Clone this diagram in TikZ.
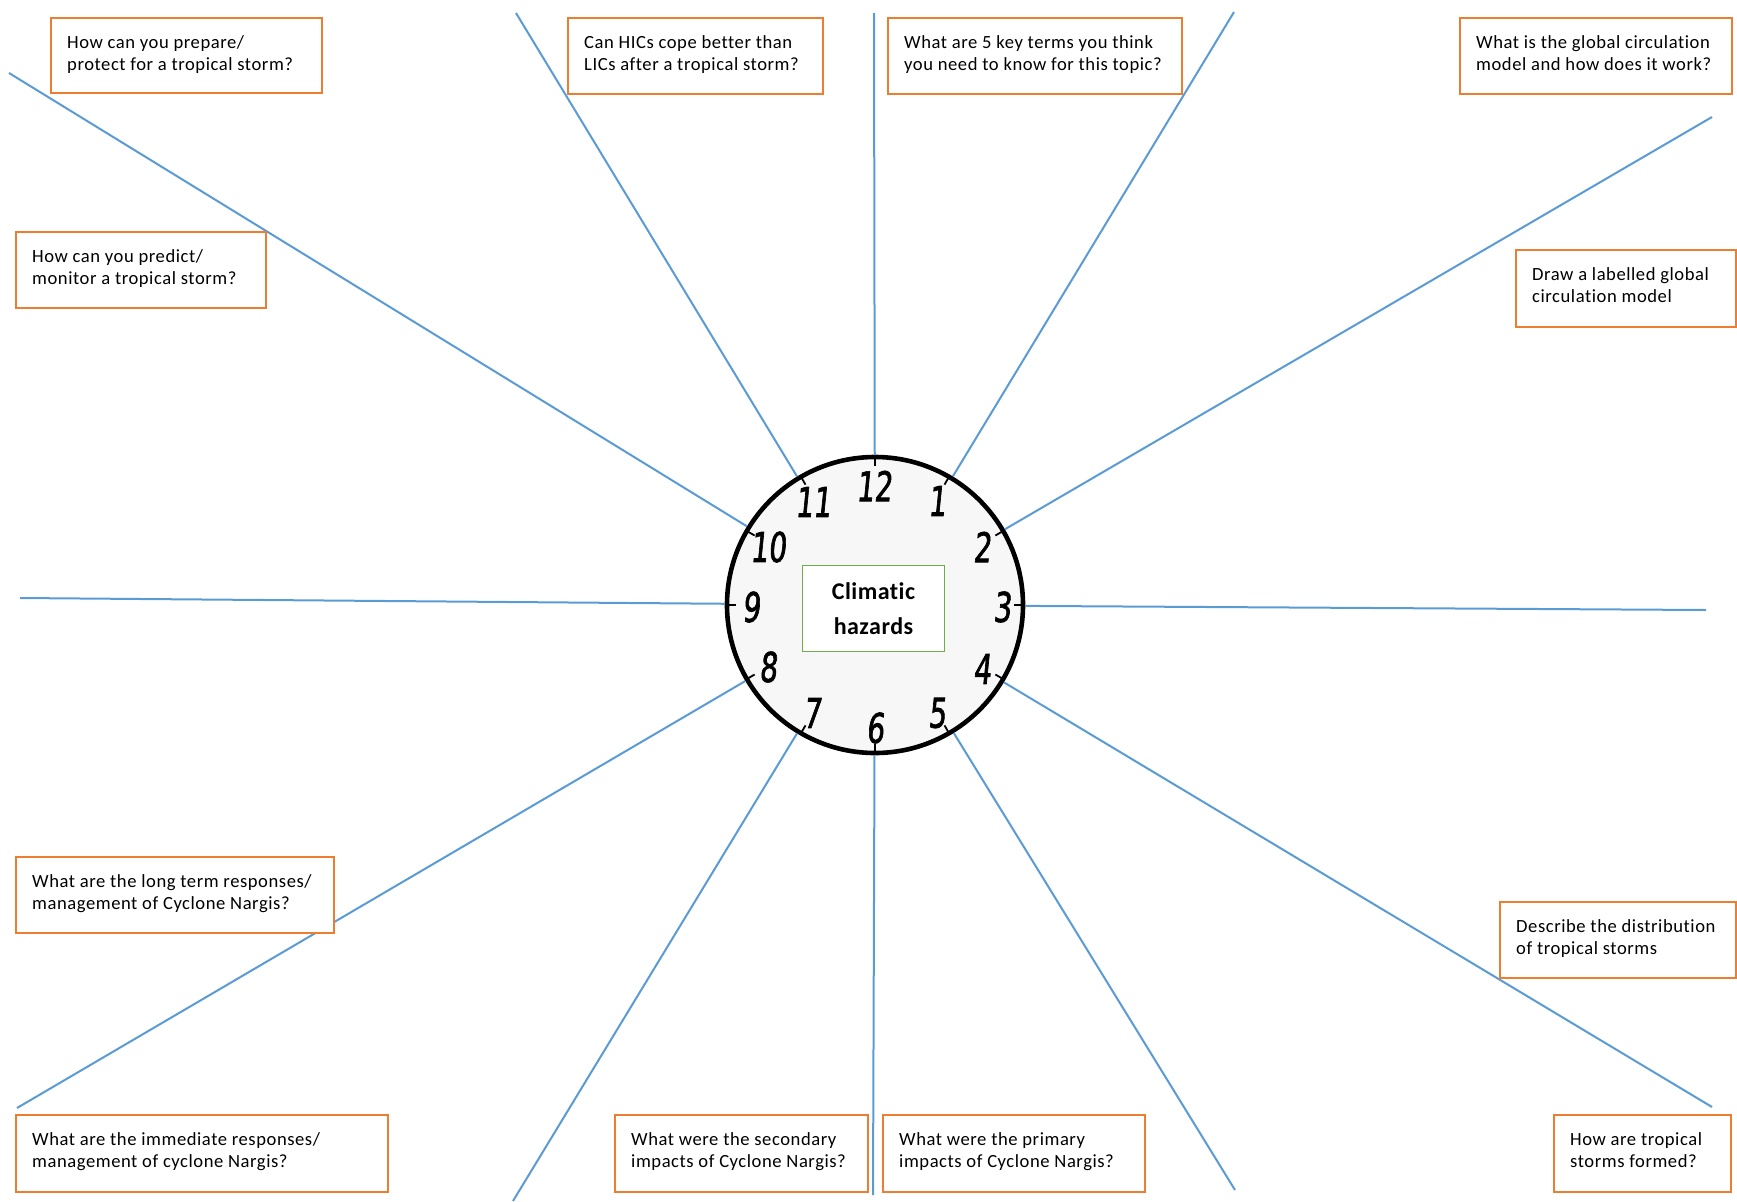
\documentclass[tikz,border=0pt]{standalone}
\usepackage{fontspec}
\setmainfont{Carlito}[LetterSpace=3, Ligatures=NoCommon]
\newfontfamily\hubfont{Carlito}[LetterSpace=2, Ligatures=NoCommon]
\newfontfamily\numfont{DejaVu Sans}[FakeSlant=0.1, FakeStretch=0.68, FakeBold=1.6]
\definecolor{qorange}{HTML}{ED7D31}
\definecolor{spokeblue}{HTML}{5B9BD5}
\definecolor{hubgreen}{HTML}{70AD47}
\tikzset{
  qbox/.style={draw=qorange, line width=1.2pt, fill=white, inner xsep=8pt, inner ysep=0pt,
    anchor=north west, font=\fontsize{9.3}{11.3}\selectfont},
  spoke/.style={draw=spokeblue, line width=1pt},
  clockface/.style={circle, draw=black, line width=2.3pt, fill=black!3, minimum size=148pt, inner sep=0pt},
  hourtick/.style={draw=black, line width=0.9pt},
  hournum/.style={font=\numfont\fontsize{20.5}{20.5}\selectfont, inner sep=0pt},
  hub/.style={draw=hubgreen, line width=0.9pt, fill=white, minimum width=71pt, minimum height=43pt,
    align=center, font=\hubfont\bfseries\fontsize{12}{17.5}\selectfont}
}
\newcommand\qb[6]{\node[qbox] (#1) at (#2,#3)
  {\parbox[t][\dimexpr #5pt/2\relax][t]{\dimexpr #4pt/2-16pt\relax}{\raggedright\vspace*{7pt}\strut #6}};}
\begin{document}
\begin{tikzpicture}[x=0.5pt,y=-0.5pt]
\useasboundingbox (0,0) rectangle (1737,1201);
% spoke end points
\coordinate (e12) at (874,13);
\coordinate (e1) at (1234,12);
\coordinate (e2) at (1712,117);
\coordinate (e3) at (1706,610);
\coordinate (e4) at (1712,1107);
\coordinate (e5) at (1235,1190);
\coordinate (e6) at (873,1195);
\coordinate (e7) at (513,1201);
\coordinate (e8) at (17,1108);
\coordinate (e9) at (20,598);
\coordinate (e10) at (9,73);
\coordinate (e11) at (516,13);
% clock
\node[clockface] (clock) at (875,605) {};
\foreach \e in {e12,e1,e2,e3,e4,e5,e6,e7,e8,e9,e10,e11}
  \draw[spoke] (clock) -- (\e);
\foreach \a in {0,30,...,330}
  \draw[hourtick] (clock.center) ++(\a:139) -- ++(\a:10);
\node[hournum] (n12) at (874,486) {12};
\node[hournum] (n1) at (937,501) {1};
\node[hournum] (n2) at (982,547) {2};
\node[hournum] (n3) at (1002,607) {3};
\node[hournum] (n4) at (982,669) {4};
\node[hournum] (n5) at (937,713) {5};
\node[hournum] (n6) at (875,728) {6};
\node[hournum] (n7) at (812,713) {7};
\node[hournum] (n8) at (768,667) {8};
\node[hournum] (n9) at (751,607) {9};
\node[hournum] (n10) at (768,547) {10};
\node[hournum] (n11) at (813,502) {11};
\node[hub] (centre) at (873.5,608.5) {Climatic\\hazards};
% question boxes
\qb{q1}{50}{17}{271}{75}{How can you prepare/\\protect for a tropical storm?}
\qb{q2}{567}{17}{255}{76}{Can HICs cope better than\\LICs after a tropical storm?}
\qb{q3}{887}{17}{294}{76}{What are 5 key terms you think\\you need to know for this topic?}
\qb{q4}{1459}{17}{272}{76}{What is the global circulation\\model and how does it work?}
\qb{q5}{15}{231}{250}{76}{How can you predict/\\monitor a tropical storm?}
\qb{q6}{1515}{249}{220}{77}{Draw a labelled global\\circulation model}
\qb{q7}{15}{856}{318}{76}{What are the long term responses/\\management of Cyclone Nargis?}
\qb{q8}{1499}{901}{236}{76}{Describe the distribution\\of tropical storms}
\qb{q9}{15}{1114}{372}{77}{What are the immediate responses/\\management of cyclone Nargis?}
\qb{q10}{614}{1114}{253}{77}{What were the secondary\\impacts of Cyclone Nargis?}
\qb{q11}{882}{1114}{262}{77}{What were the primary\\impacts of Cyclone Nargis?}
\qb{q12}{1553}{1114}{177}{77}{How are tropical\\storms formed?}
\end{tikzpicture}
\end{document}
